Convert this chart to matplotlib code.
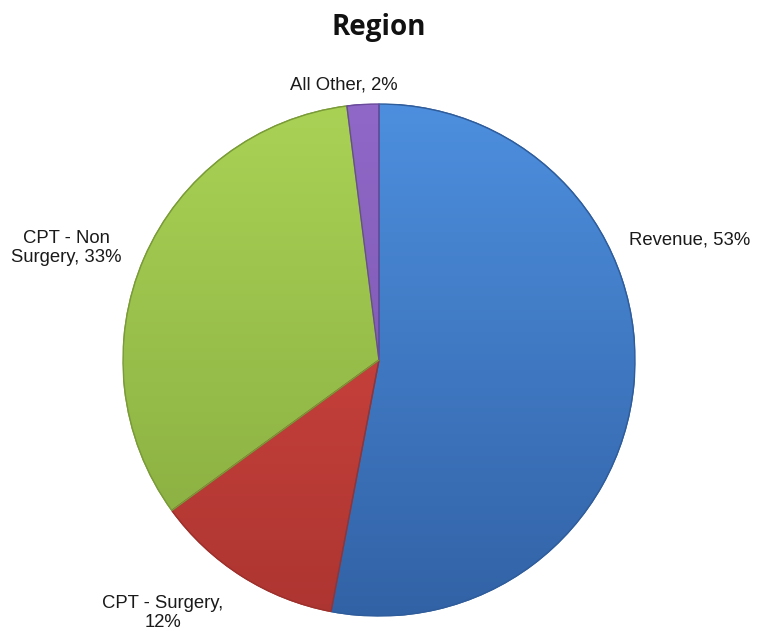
import numpy as np
import matplotlib
matplotlib.use("Agg")
import matplotlib.pyplot as plt
from matplotlib.colors import LinearSegmentedColormap
from matplotlib.patches import Wedge

# Data
categories = ["Revenue", "CPT - Surgery", "CPT - Non Surgery", "All Other"]
values = [53, 12, 33, 2]
label_texts = ["Revenue, 53%", "CPT - Surgery,\n12%", "CPT - Non\nSurgery, 33%", "All Other, 2%"]

top_colors = ["#4d8fde", "#dc4a44", "#a9d255", "#9068c8"]
bottom_colors = ["#3262a6", "#ad3531", "#86aa3f", "#7552a8"]
edge_colors = ["#2f5d9c", "#9e302c", "#7a9b38", "#6a4a9a"]

W, H = 757, 635
fig = plt.figure(figsize=(W / 100, H / 100), dpi=100)
fig.patch.set_facecolor("white")

cx, cy, R = 379, 360, 256
ax = fig.add_axes([(cx - R) / W, (H - cy - R) / H, 2 * R / W, 2 * R / H])
ax.set_xlim(-1, 1)
ax.set_ylim(-1, 1)
ax.set_aspect("equal")
ax.axis("off")

wedges, _ = ax.pie(values, startangle=90, counterclock=False, radius=1,
                   colors=top_colors,
                   wedgeprops=dict(linewidth=1.0))

grad = np.linspace(0, 1, 256).reshape(-1, 1)
for w, tc, bc, ec in zip(wedges, top_colors, bottom_colors, edge_colors):
    w.set_edgecolor(ec)
    cmap = LinearSegmentedColormap.from_list("g", [tc, bc])
    im = ax.imshow(grad, extent=[-1, 1, -1, 1], origin="upper", cmap=cmap,
                   aspect="auto", zorder=w.get_zorder() + 0.1)
    im.set_clip_path(w)
    w2 = Wedge(w.center, w.r, w.theta1, w.theta2, facecolor="none",
               edgecolor=ec, linewidth=1.0, zorder=w.get_zorder() + 0.2)
    ax.add_patch(w2)

ax.set_xlim(-1, 1)
ax.set_ylim(-1, 1)

def px2data(px, py):
    return (px - cx) / R, (cy - py) / R

label_px = [(690, 240), (163, 613), (66, 248), (344, 85)]
for txt, (px, py) in zip(label_texts, label_px):
    x, y = px2data(px, py)
    ax.text(x, y, txt, ha="center", va="center", fontsize=13.3,
            family="Liberation Sans", color="#1a1a1a", clip_on=False,
            linespacing=1.2)

fig.text(cx / W, 1 - 27 / H, "Region", ha="center", va="center",
         fontsize=20, fontweight="bold", family="Open Sans", color="#111111")

fig.savefig("out.png", dpi=100, facecolor="white")
